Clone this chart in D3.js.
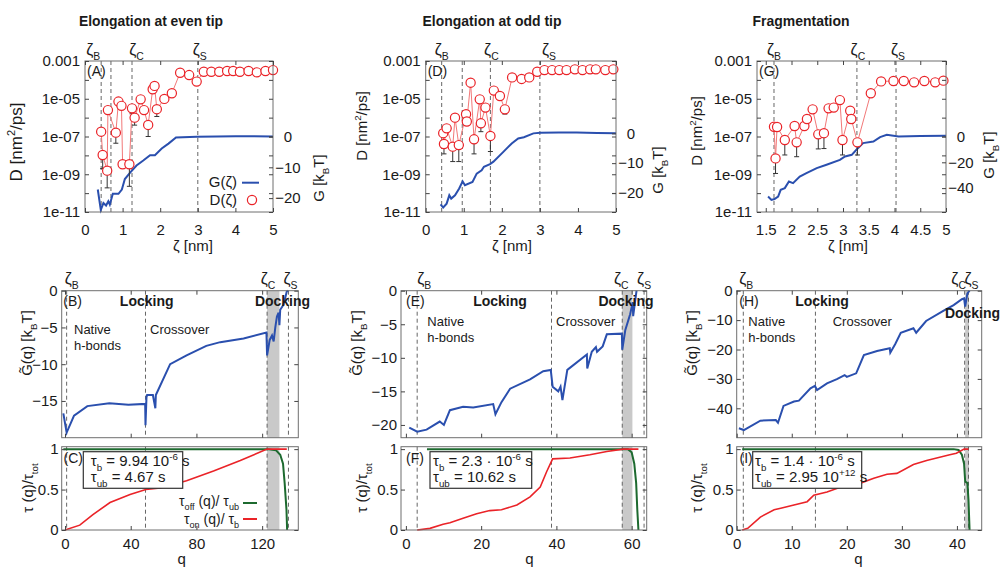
<!DOCTYPE html>
<html>
<head>
<meta charset="utf-8">
<script src="https://cdn.jsdelivr.net/npm/d3@7"></script>
<style>
  body { margin: 0; background: #fff; }
  svg text { font-family: "Liberation Sans", Arial, sans-serif; fill: #1a1a1a; }
</style>
</head>
<body>
<svg id="fig" width="1000" height="569"></svg>
<script>
// ---------- top row: D(zeta) [nm^2/ps], lower end of error bar, G(zeta) [kBT]
const evenZeta = [0.43,0.47,0.59,0.61,0.82,0.89,0.97,1.00,1.18,1.25,1.32,1.48,1.57,1.68,1.80,1.85,1.91,2.11,2.31,2.53,2.77,2.97,3.16,3.36,3.57,3.78,3.94,4.12,4.35,4.57,4.80,5.00];
const evenD = [1.8e-7,1.05e-8,1.55e-9,2.5e-6,1.6e-7,7.1e-6,4.2e-6,3.4e-9,3.4e-9,3.1e-6,1.0e-6,9.3e-6,2.5e-6,4.1e-7,3.2e-5,4.8e-5,2.8e-6,9.8e-6,1.95e-5,2.4e-4,1.8e-4,8.1e-5,2.7e-4,2.7e-4,2.7e-4,2.95e-4,2.95e-4,2.7e-4,2.95e-4,2.5e-4,2.95e-4,3.3e-4];
const evenDlow = [null,2e-9,1.9e-10,null,4.4e-8,null,null,null,2.3e-10,1.6e-6,4e-7,null,null,1e-7,null,null,1.15e-6,null,null,null,null,null,null,null,null,null,null,null,null,null,null,null];
const evenGz = [0.34,0.42,0.49,0.56,0.62,0.66,0.74,0.89,0.98,1.06,1.20,1.37,1.55,1.73,1.86,2.04,2.22,2.42,2.97,3.5,4.0,4.5,5.0];
const evenG = [-17.2,-23.8,-21.6,-22.4,-21.0,-22.1,-18.6,-18.6,-17.2,-13.8,-11.7,-9.4,-7.8,-6.1,-6.1,-3.9,-2.3,-0.3,-0.1,0,0.1,0.1,0];
const evenMarks = [0.43,0.69,1.25,3.0];

const oddZeta = [0.46,0.48,0.55,0.71,0.77,0.87,1.06,1.08,1.18,1.27,1.42,1.45,1.57,1.70,1.79,1.95,2.08,2.27,2.52,2.72,2.93,3.12,3.32,3.51,3.70,3.92,4.12,4.32,4.47,4.72,4.93];
const oddD = [1.5e-7,4.0e-8,2.7e-7,2.9e-8,1.0e-6,3.5e-8,1.5e-6,6.2e-7,7.1e-5,7.1e-8,9.3e-6,5.0e-7,3.4e-6,1.07e-7,2.7e-5,1.4e-5,2.75e-6,1.35e-4,1.12e-4,1.35e-4,2.7e-4,3.3e-4,3.3e-4,3.3e-4,3.3e-4,3.6e-4,3.3e-4,3.6e-4,3.6e-4,3.3e-4,3.6e-4];
const oddDlow = [null,1.2e-8,null,4.7e-9,null,4.7e-9,null,4e-7,null,1.2e-8,6e-6,1.8e-7,2.4e-6,1.6e-8,null,null,1.55e-6,null,null,null,null,null,null,null,null,null,null,null,null,null,null];
const oddGz = [0.39,0.46,0.55,0.62,0.67,0.77,0.88,0.97,1.03,1.23,1.34,1.47,1.53,1.69,1.78,2.04,2.26,2.43,2.58,2.83,3.01,3.5,3.97,4.5,5.0];
const oddG = [-23.8,-24.9,-23.6,-20.8,-21.9,-20.8,-18.5,-16.1,-17.4,-16.3,-13.5,-12.4,-11.2,-10.3,-9.5,-6.2,-3.4,-1.7,-1.3,0,0.2,0.3,0.3,0.1,0];
const oddMarks = [0.42,0.96,1.7,3.0];

const fragZeta = [1.66,1.69,1.72,1.87,2.06,2.10,2.25,2.30,2.41,2.52,2.63,2.72,2.82,2.94,2.99,3.14,3.16,3.28,3.54,3.74,3.98,4.18,4.38,4.58,4.79,4.95];
const fragD = [3.3e-7,6.9e-9,3.2e-7,6.5e-8,3.6e-7,4.9e-8,3.6e-7,8.5e-7,2.75e-6,1.3e-7,1.5e-7,3.1e-6,3.4e-6,8.5e-6,6.5e-8,2.3e-6,8.5e-7,4.9e-8,1.95e-5,8.3e-5,8.7e-5,8.7e-5,7.4e-5,8.7e-5,7.4e-5,9.1e-5];
const fragDlow = [null,1.1e-9,null,1.05e-8,2.2e-7,8.5e-9,null,null,2e-6,2.2e-8,2.3e-8,null,null,7e-6,1.05e-8,null,5e-7,1.05e-8,null,null,null,null,null,null,null,null];
const fragGz = [1.545,1.61,1.67,1.74,1.79,1.87,1.95,2.03,2.16,2.29,2.49,2.68,2.94,3.04,3.17,3.26,3.39,3.59,3.72,3.85,4.08,4.5,5.0];
const fragG = [-46.5,-49.1,-48.5,-46.5,-41.3,-40.0,-34.9,-36.1,-31.0,-28.4,-24.5,-21.9,-18.1,-15.5,-14.2,-10.3,-5.1,-3.9,-0.5,1.3,0,0.3,0.5];
const fragMarks = [1.66,3.27,4.03];

const dTickVals = [1e-3,1e-5,1e-7,1e-9,1e-11];
const dTickLabels = ["0.001","1e-05","1e-07","1e-09","1e-11"];

// ---------- middle row: G~(q) [kBT]
const bQ = [-1,1,5.5,13.6,27,38.6,48.8,49,49.6,50,53.5,55,55.3,64,74,86,94.5,108.7,122.6,123,124.6,126,127,128,129,130,130.5,131,133,135,136];
const bG = [-16.7,-19.3,-17.0,-15.7,-15.3,-15.5,-15.4,-18.3,-14.5,-14.2,-14.2,-16.0,-14.2,-10.0,-8.8,-7.5,-7.0,-6.5,-5.7,-8.8,-6.7,-6.1,-6.9,-5.0,-3.5,-3.0,-4.7,-2.6,-1.9,-0.1,0];
const eQ = [0.9,3,5.5,9,10.1,11.7,15.2,17.9,23.2,23.8,25.4,27.7,33,36.5,38.5,39,40.5,41.1,41.6,42.9,48.1,48.2,49.4,50.5,50.8,52.3,53.4,57.4,57.5,58.3,59.6,60.3,60.4,61.3];
const eG = [-20.4,-21.0,-20.7,-19.5,-20.0,-17.8,-17.3,-17.4,-16.9,-18.4,-16.6,-14.6,-13.2,-12.0,-11.8,-14.3,-15.0,-14.3,-16.3,-11.8,-9.5,-11.6,-9.1,-8.4,-9.1,-8.3,-6.5,-6.4,-8.8,-5.9,-3.5,-1.7,-3.8,0];
const hQ = [0.4,1.3,4.3,7.1,7.5,8.5,10.4,11.3,13.4,14.2,14.6,16.4,18.2,19.6,20.0,21.7,23.1,25.5,27.8,27.9,28.8,29.8,32.1,32.6,34.4,37.6,39.4,40.9,41.3,41.5,41.9,42.3];
const hG = [-46.8,-47.4,-44.2,-44.0,-44.9,-39.2,-37.7,-37.4,-33.2,-32.4,-33.8,-31.5,-30.1,-28.7,-29.3,-28.1,-21.9,-20.5,-19.6,-21.1,-18.1,-14.3,-12.8,-14.3,-10.3,-6.8,-4.9,-2.9,-2.6,-5.4,-0.9,0];

// ---------- bottom row: tau(q)/tau_tot
const cOffQ = [-1,123,128.5,131,132.7,133.7,134.8,135.2];
const cOff = [1,1,0.985,0.93,0.82,0.58,0.25,0];
const cOnQ = [0,9,17,27.4,39.6,49.2,58,74,90.4,106.7,123,135];
const cOn = [0,0.06,0.19,0.34,0.44,0.50,0.52,0.61,0.73,0.86,1.0,1.0];
const fOffQ = [5.6,57.7,59,60,60.7,61.2,61.5,61.8];
const fOff = [1,1,1,0.96,0.82,0.58,0.25,0];
const fOnQ = [3,6.4,9.9,11.7,15.2,18.8,22.3,25.4,29.5,33,35.7,37.4,39,43.6,48.9,53.4,57.7,61.8];
const fOn = [0,0.02,0.07,0.09,0.145,0.20,0.24,0.25,0.31,0.41,0.53,0.72,0.88,0.89,0.93,0.97,1.0,1.0];
const iOffQ = [1,39.4,40.3,40.9,41.3,41.5,41.9,42.1,42.3];
const iOff = [1,1,0.99,0.93,0.82,0.60,0.58,0.37,0];
const iOnQ = [1,2,4.3,6.8,8,10.4,12.8,14,16.4,18.8,20.1,22.5,24.9,27.3,29.1,32.1,34.5,38.7,39.9,41.3,42.1];
const iOn = [0,0.02,0.16,0.25,0.27,0.31,0.35,0.43,0.47,0.53,0.56,0.58,0.64,0.69,0.70,0.81,0.86,0.93,0.95,1.0,1.0];

const svg = d3.select("#fig");
const BLUE = "#2a4fae", RED = "#ea2328", GREEN = "#1d6a2f", EDGE = "#6f6f6f";
const TOP_T = 61, TOP_B = 212, MID_T = 290.7, MID_B = 437.7, BOT_T = 446.7, BOT_B = 530;

// text with sub/superscript pieces: [[str, kind]]
function rich(parent, x, y, parts, size, anchor, weight) {
  const t = parent.append("text").attr("x", x).attr("y", y)
    .attr("font-size", size).attr("text-anchor", anchor || "start");
  if (weight) t.attr("font-weight", weight);
  let shift = 0;
  parts.forEach(([s, k]) => {
    const target = k === "sub" ? 0.3 * size : k === "sup" ? -0.4 * size : 0;
    t.append("tspan").attr("dy", target - shift)
      .attr("font-size", k ? size * 0.65 : size).text(s);
    shift = target;
  });
  return t;
}
function vlabel(cx, cy, parts, size) {
  const g = svg.append("g").attr("transform", `translate(${cx},${cy}) rotate(-90)`);
  rich(g, 0, size * 0.35, parts, size, "middle");
}
function zetaTag(x, y, sub) {
  rich(svg, x, y, [["ζ"], [sub, "sub"]], 16, "middle");
}
function tidy(a, size) {
  a.select(".domain").remove();
  a.attr("font-size", size || 15);
  a.selectAll("line").attr("stroke", "#444");
  a.selectAll("text").attr("fill", "#1a1a1a");
  return a;
}
function frame(g, l, r, t, b) {
  g.append("rect").attr("x", l).attr("y", t).attr("width", r - l).attr("height", b - t)
    .attr("fill", "none").attr("stroke", EDGE).attr("stroke-width", 1);
}
function marks(g, x, vals, t, b) {
  g.selectAll(null).data(vals).join("line")
    .attr("x1", d => x(d)).attr("x2", d => x(d)).attr("y1", t).attr("y2", b)
    .attr("stroke", "#555").attr("stroke-width", 0.9).attr("stroke-dasharray", "4,3");
}

// ---------- top row
const topPanels = [
  {left: 85, right: 273, xDom: [0, 5], xTicks: [0,1,2,3,4,5], gDom: [-24.5, 24.5], gTicks: [0,-10,-20],
   zeta: evenZeta, D: evenD, Dlow: evenDlow, gz: evenGz, g: evenG, marks: evenMarks,
   tags: [[0, "B", -8], [2, "C", 4.5], [3, "S", 2]], tag: "(A)",
   title: "Elongation at even tip", titleX: 151, titleW: 144, xLab: 193, dLab: [16, 142, 17], gLab: [319, 178, 15], legend: true},
  {left: 425.7, right: 616, xDom: [0, 5], xTicks: [0,1,2,3,4,5], gDom: [-26.4, 24.3], gTicks: [0,-10,-20],
   zeta: oddZeta, D: oddD, Dlow: oddDlow, gz: oddGz, g: oddG, marks: oddMarks,
   tags: [[0, "B", 0], [2, "C", 1], [3, "S", 9]], tag: "(D)",
   title: "Elongation at odd tip", titleX: 492, titleW: 139, xLab: 512, dLab: [362, 126, 15], gLab: [658, 170, 15]},
  {left: 757, right: 946, xDom: [1.33, 5], xTicks: [1.5,2,2.5,3,3.5,4,4.5,5], gDom: [-58.5, 58.5], gTicks: [0,-20,-40],
   zeta: fragZeta, D: fragD, Dlow: fragDlow, gz: fragGz, g: fragG, marks: fragMarks,
   tags: [[0, "B", 0], [1, "C", 1], [2, "S", 2]], tag: "(G)",
   title: "Fragmentation", titleX: 801, titleW: 97, xLab: 848, dLab: [697, 131, 15], gLab: [989, 155, 15]}
];

topPanels.forEach(p => {
  const x = d3.scaleLinear().domain(p.xDom).range([p.left, p.right]);
  const y = d3.scaleLog().domain([1e-11, 1e-3]).range([TOP_B, TOP_T]);
  const gy = d3.scaleLinear().domain(p.gDom).range([TOP_B, TOP_T]);
  const g = svg.append("g");

  marks(g, x, p.marks, TOP_T, TOP_B);

  g.append("path").datum(d3.zip(p.gz, p.g))
    .attr("d", d3.line().x(d => x(d[0])).y(d => gy(d[1])))
    .attr("fill", "none").attr("stroke", BLUE).attr("stroke-width", 2);

  const pts = d3.zip(p.zeta, p.D, p.Dlow);
  g.append("path").datum(pts)
    .attr("d", d3.line().x(d => x(d[0])).y(d => y(d[1])))
    .attr("fill", "none").attr("stroke", "#f27878").attr("stroke-width", 1);
  g.selectAll(null).data(pts.filter(d => d[2])).join("path")
    .attr("d", d => `M${x(d[0])},${y(d[1])}V${y(d[2])}M${x(d[0]) - 2.5},${y(d[2])}h5`)
    .attr("fill", "none").attr("stroke", "#333").attr("stroke-width", 1);
  g.selectAll(null).data(pts).join("circle")
    .attr("cx", d => x(d[0])).attr("cy", d => y(d[1])).attr("r", 4.6)
    .attr("fill", "#fff").attr("stroke", RED).attr("stroke-width", 1.2);

  frame(g, p.left, p.right, TOP_T, TOP_B);

  const decades = d3.range(-11, -2).map(e => +("1e" + e));
  tidy(g.append("g").attr("transform", `translate(${p.left},0)`)
    .call(d3.axisLeft(y).tickValues(decades).tickSize(-4).tickPadding(5)
      .tickFormat(d => { const k = dTickVals.indexOf(d); return k < 0 ? "" : dTickLabels[k]; })));
  tidy(g.append("g").attr("transform", `translate(${p.right},0)`)
    .call(d3.axisRight(y).tickValues(decades).tickSize(-4).tickFormat("")));
  tidy(g.append("g").attr("transform", `translate(${p.right},0)`)
    .call(d3.axisRight(gy).tickValues(p.gTicks).tickSize(-4).tickPadding(15)))
    .selectAll("text").attr("text-anchor", "middle");
  tidy(g.append("g").attr("transform", `translate(0,${TOP_T})`)
    .call(d3.axisTop(x).tickValues(p.xTicks).tickSize(-4).tickFormat("")));
  tidy(g.append("g").attr("transform", `translate(0,${TOP_B})`)
    .call(d3.axisBottom(x).tickValues(p.xTicks).tickSize(-4).tickPadding(12).tickFormat(d3.format("~g"))));

  svg.append("text").attr("x", p.titleX).attr("y", 26).attr("text-anchor", "middle")
    .attr("font-size", 15).attr("font-weight", "bold")
    .attr("textLength", p.titleW).attr("lengthAdjust", "spacingAndGlyphs").text(p.title);
  p.tags.forEach(([i, s, dx]) => zetaTag(x(p.marks[i]) + dx, 55, s));
  svg.append("text").attr("x", p.left + 2).attr("y", 76).attr("font-size", 14).text(p.tag);
  rich(svg, p.xLab, 251, [["ζ  [nm]"]], 15, "middle");
  vlabel(p.dLab[0], p.dLab[1], [["D [nm"], ["2", "sup"], ["/ps]"]], p.dLab[2]);
  vlabel(p.gLab[0], p.gLab[1], [["G [k"], ["B", "sub"], ["T]"]], p.gLab[2]);

  if (p.legend) {
    rich(svg, 237, 187, [["G(ζ)"]], 15, "end");
    svg.append("line").attr("x1", 242).attr("x2", 259).attr("y1", 182.7).attr("y2", 182.7)
      .attr("stroke", BLUE).attr("stroke-width", 2);
    rich(svg, 237, 205, [["D(ζ)"]], 15, "end");
    svg.append("circle").attr("cx", 252).attr("cy", 200).attr("r", 4.6)
      .attr("fill", "#fff").attr("stroke", RED).attr("stroke-width", 1.2);
  }
});

// ---------- middle and bottom rows
const lowPanels = [
  {left: 61.7, right: 298.3, xDom: [-2, 142], xTicks: [0,40,80,120],
   yDom: [-20, 0], yTicks: [0,-5,-10,-15], q: bQ, G: bG,
   marks: [1, 49, 123, 136], band: [123, 130.5], zdx: [5, 1, 2],
   tagB: "(B)", tagBx: 63.3, lockX: 146.7, dockX: 282.5, dockY: 306, natX: 74, natY: 334, crossX: 150,
   yLab: 27, offQ: cOffQ, off: cOff, onQ: cOnQ, on: cOn, tagC: "(C)", tagCx: 63.5,
   box: [83.3, 99.4], boxText: 90.7, tb: "9.94   10", tub: [["τ"], ["ub", "sub"], [" = 4.67 s"]],
   qLab: 181.7, tLab: 28, legend: true},
  {left: 401, right: 646.7, xDom: [-1.3, 64], xTicks: [0,20,40,60],
   yDom: [-21.9, 0], yTicks: [0,-5,-10,-15,-20], q: eQ, G: eG,
   marks: [3, 38.7, 57.5, 63.3], band: [57.5, 60.2], zdx: [7, -1, 0],
   tagB: "(E)", tagBx: 406, lockX: 500, dockX: 626, dockY: 306, natX: 427.3, natY: 326, crossX: 556,
   yLab: 357, offQ: fOffQ, off: fOff, onQ: fOnQ, on: fOn, tagC: "(F)", tagCx: 406,
   box: [430, 101.7], boxText: 433, tb: "2.3 · 10", tub: [["τ"], ["ub", "sub"], [" = 10.62 s"]],
   qLab: 529.3, tLab: 362},
  {left: 736.7, right: 981.7, xDom: [0, 44.5], xTicks: [0,10,20,30,40],
   yDom: [-50, 0], yTicks: [0,-10,-20,-30,-40], q: hQ, G: hG,
   marks: [1.2, 14.3, 41.4, 42.1], band: [41.5, 42.2], zdx: [3, -6, 3],
   tagB: "(H)", tagBx: 739.3, lockX: 822, dockX: 972.5, dockY: 318, natX: 748.3, natY: 326, crossX: 832.7,
   yLab: 692, offQ: iOffQ, off: iOff, onQ: iOnQ, on: iOn, tagC: "(I)", tagCx: 739.5,
   box: [752.7, 109], boxText: 755, tb: "1.4 · 10",
   tub: [["τ"], ["ub", "sub"], [" = 2.95   10"], ["+12", "sup"], [" s"]],
   qLab: 858.3, tLab: 697}
];

lowPanels.forEach(p => {
  const x = d3.scaleLinear().domain(p.xDom).range([p.left, p.right]);

  // middle panel: G~(q)
  const y = d3.scaleLinear().domain(p.yDom).range([MID_B, MID_T]);
  const g = svg.append("g");
  g.append("rect").attr("x", x(p.band[0])).attr("y", MID_T)
    .attr("width", x(p.band[1]) - x(p.band[0])).attr("height", MID_B - MID_T).attr("fill", "#c9c9c9");
  marks(g, x, p.marks, MID_T, MID_B);
  g.append("path").datum(d3.zip(p.q, p.G))
    .attr("d", d3.line().x(d => x(d[0])).y(d => y(d[1])))
    .attr("fill", "none").attr("stroke", BLUE).attr("stroke-width", 2);
  frame(g, p.left, p.right, MID_T, MID_B);
  tidy(g.append("g").attr("transform", `translate(${p.left},0)`)
    .call(d3.axisLeft(y).tickValues(p.yTicks).tickSize(-4).tickPadding(4)));
  tidy(g.append("g").attr("transform", `translate(${p.right},0)`)
    .call(d3.axisRight(y).tickValues(p.yTicks).tickSize(-4).tickFormat("")));
  tidy(g.append("g").attr("transform", `translate(0,${MID_T})`)
    .call(d3.axisTop(x).tickValues(p.xTicks).tickSize(-4).tickFormat("")));
  tidy(g.append("g").attr("transform", `translate(0,${MID_B})`)
    .call(d3.axisBottom(x).tickValues(p.xTicks).tickSize(-4).tickFormat("")));

  [[0, "B"], [2, "C"], [3, "S"]].forEach(([i, s], k) => zetaTag(x(p.marks[i]) + p.zdx[k], 284, s));
  svg.append("text").attr("x", p.tagBx).attr("y", 306).attr("font-size", 14).text(p.tagB);
  svg.append("text").attr("x", p.lockX).attr("y", 306).attr("text-anchor", "middle")
    .attr("font-size", 14).attr("font-weight", "bold").text("Locking");
  svg.append("text").attr("x", p.dockX).attr("y", p.dockY).attr("text-anchor", "middle")
    .attr("font-size", 14).attr("font-weight", "bold").text("Docking");
  svg.append("text").attr("x", p.natX).attr("y", p.natY).attr("font-size", 13)
    .attr("font-family", "'Open Sans', sans-serif").text("Native");
  svg.append("text").attr("x", p.natX).attr("y", p.natY + 15.5).attr("font-size", 13)
    .attr("font-family", "'Open Sans', sans-serif").text("h-bonds");
  svg.append("text").attr("x", p.crossX).attr("y", p.natY).attr("font-size", 13)
    .attr("font-family", "'Open Sans', sans-serif").text("Crossover");
  vlabel(p.yLab, 343, [["G̃(q) [k"], ["B", "sub"], ["T]"]], 15);

  // bottom panel: tau(q)/tau_tot
  const ty = d3.scaleLinear().domain([0, 1.03]).range([BOT_B, BOT_T]);
  const b = svg.append("g");
  b.append("rect").attr("x", x(p.band[0])).attr("y", BOT_T)
    .attr("width", x(p.band[1]) - x(p.band[0])).attr("height", BOT_B - BOT_T).attr("fill", "#c9c9c9");
  marks(b, x, p.marks, BOT_T, BOT_B);
  const ln = d3.line().x(d => x(d[0])).y(d => ty(d[1]));
  b.append("path").datum(d3.zip(p.offQ, p.off)).attr("d", ln)
    .attr("fill", "none").attr("stroke", GREEN).attr("stroke-width", 2);
  b.append("path").datum(d3.zip(p.onQ, p.on)).attr("d", ln)
    .attr("fill", "none").attr("stroke", RED).attr("stroke-width", 1.6);
  frame(b, p.left, p.right, BOT_T, BOT_B);
  tidy(b.append("g").attr("transform", `translate(${p.left},0)`)
    .call(d3.axisLeft(ty).tickValues([0, 0.5, 1]).tickSize(-4).tickPadding(3).tickFormat(d3.format("~g"))));
  tidy(b.append("g").attr("transform", `translate(${p.right},0)`)
    .call(d3.axisRight(ty).tickValues([0, 0.5, 1]).tickSize(-4).tickFormat("")));
  tidy(b.append("g").attr("transform", `translate(0,${BOT_B})`)
    .call(d3.axisBottom(x).tickValues(p.xTicks).tickSize(-4).tickPadding(8)));

  b.append("rect").attr("x", p.box[0]).attr("y", 451.7).attr("width", p.box[1]).attr("height", 36.6)
    .attr("fill", "#fff").attr("stroke", "#333").attr("stroke-width", 1.2);
  rich(b, p.boxText, 466, [["τ"], ["b", "sub"], [" = " + p.tb], ["-6", "sup"], [" s"]], 15);
  rich(b, p.boxText, 482, p.tub, 15);
  b.append("text").attr("x", p.tagCx).attr("y", 463).attr("font-size", 14).text(p.tagC);
  rich(svg, p.qLab, 564, [["q"]], 15, "middle");
  vlabel(p.tLab, 488, [["τ (q)/τ"], ["tot", "sub"]], 15);

  if (p.legend) {
    rich(svg, 239, 506, [["τ"], ["off", "sub"], [" (q)/ τ"], ["ub", "sub"]], 14, "end");
    svg.append("line").attr("x1", 243).attr("x2", 257).attr("y1", 503).attr("y2", 503)
      .attr("stroke", GREEN).attr("stroke-width", 2);
    rich(svg, 239, 524, [["τ"], ["on", "sub"], [" (q)/ τ"], ["b", "sub"]], 14, "end");
    svg.append("line").attr("x1", 243).attr("x2", 257).attr("y1", 519).attr("y2", 519)
      .attr("stroke", RED).attr("stroke-width", 2);
  }
});
</script>
</body>
</html>
